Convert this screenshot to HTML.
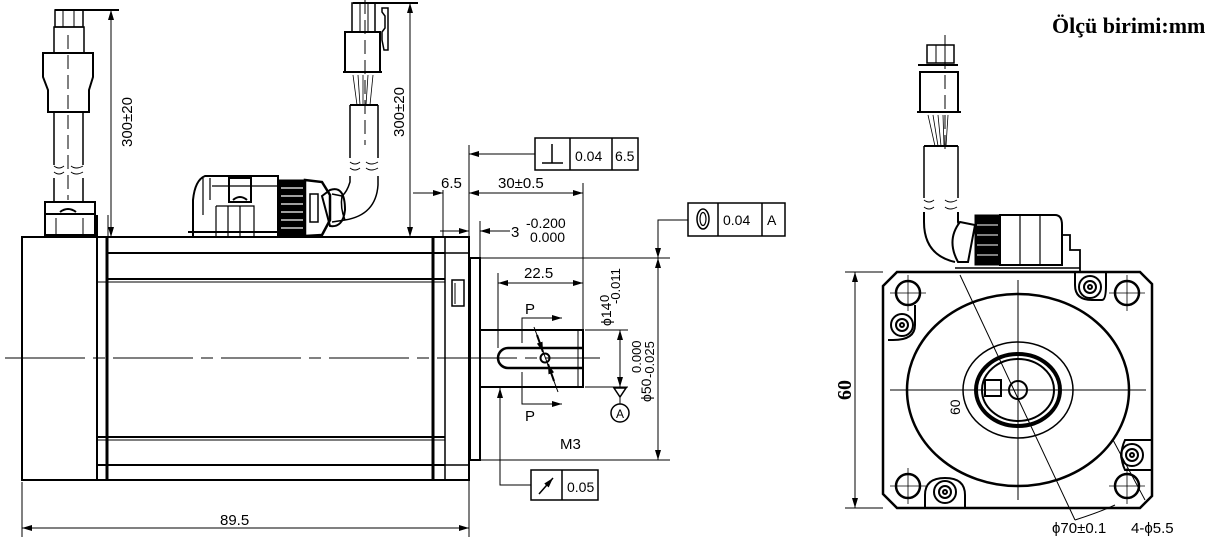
<!DOCTYPE html>
<html><head><meta charset="utf-8"><style>
html,body{margin:0;padding:0;background:#fff;width:1223px;height:553px;overflow:hidden}
svg{display:block}
text{font-family:"Liberation Sans",sans-serif;fill:#000}
</style></head><body>
<svg width="1223" height="553" viewBox="0 0 1223 553" xmlns="http://www.w3.org/2000/svg">
<defs>
<marker id="a" viewBox="0 0 10 6" refX="10" refY="3" markerWidth="10" markerHeight="6" orient="auto-start-reverse" markerUnits="userSpaceOnUse"><path d="M0,0L10,3L0,6z" fill="#000"/></marker>
</defs>
<g fill="none" stroke="#000" stroke-width="1">
<rect x="22" y="237" width="447" height="243" stroke-width="2"/>
<line x1="97" y1="237" x2="97" y2="480" stroke-width="2"/>
<line x1="107" y1="237" x2="107" y2="480" stroke-width="3"/>
<line x1="433" y1="237" x2="433" y2="480" stroke-width="3"/>
<line x1="445" y1="237" x2="445" y2="480" stroke-width="1.5"/>
<line x1="107" y1="253" x2="445" y2="253" stroke-width="2"/>
<line x1="107" y1="279" x2="445" y2="279" stroke-width="2"/>
<line x1="97" y1="282" x2="445" y2="282" stroke-width="1"/>
<line x1="97" y1="437" x2="445" y2="437" stroke-width="2"/>
<line x1="97" y1="440" x2="445" y2="440" stroke-width="1"/>
<line x1="97" y1="465" x2="445" y2="465" stroke-width="2"/>
<line x1="445" y1="465" x2="469" y2="465" stroke-width="1.5"/>
<line x1="445" y1="253" x2="469" y2="253" stroke-width="1.5"/>
<rect x="452" y="280" width="12" height="26" stroke-width="1.5"/>
<line x1="455" y1="283" x2="455" y2="304"/>
<rect x="470" y="258" width="10" height="202" stroke-width="2"/>
<rect x="480" y="330" width="103" height="57" stroke-width="2"/>
<path d="M583,348 H508 A10,10 0 0 0 508,368 H583" stroke-width="2.5"/>
<line x1="578" y1="330" x2="578" y2="387"/>
<circle cx="545" cy="358" r="4.5" stroke-width="2"/>
<line x1="5" y1="358" x2="600" y2="358" stroke-dasharray="80,8,12,8"/>
<line x1="55" y1="10" x2="119" y2="10" stroke-width="2"/>
<rect x="55" y="10" width="28" height="17" stroke-width="1.5"/>
<line x1="63" y1="10" x2="63" y2="27"/><line x1="74" y1="10" x2="74" y2="27"/>
<rect x="54" y="27" width="30" height="26" stroke-width="1.5"/>
<path d="M43,53 H93 V77 L89,90 V112 H48 V90 L43,77 Z" stroke-width="2"/>
<line x1="54" y1="112" x2="54" y2="165" stroke-width="1.5"/>
<line x1="83" y1="112" x2="83" y2="165" stroke-width="1.5"/>
<path d="M54,166 q5,4 10,0 M71,166 q5,4 12,0 M54,172 q5,4 10,0 M71,172 q5,4 12,0"/>
<line x1="54" y1="178" x2="54" y2="202" stroke-width="1.5"/>
<line x1="83" y1="178" x2="83" y2="202" stroke-width="1.5"/>
<line x1="68" y1="35" x2="68" y2="200" stroke-dasharray="14,6"/>
<rect x="45" y="202" width="50" height="33" stroke-width="2"/>
<line x1="45" y1="214" x2="95" y2="214" stroke-width="2"/>
<path d="M60,212 q8,-6 16,0" stroke-width="2"/>
<line x1="56" y1="218" x2="56" y2="235"/><line x1="83" y1="218" x2="83" y2="235"/>
<line x1="97" y1="215" x2="97" y2="250" stroke-width="2"/><line x1="108" y1="215" x2="108" y2="237"/>
<line x1="111" y1="10" x2="111" y2="237" marker-start="url(#a)" marker-end="url(#a)"/>
<line x1="353" y1="3" x2="418" y2="3" stroke-width="2"/>
<rect x="352" y="3" width="23" height="29" stroke-width="1.5"/>
<line x1="360" y1="3" x2="360" y2="32"/><line x1="368" y1="3" x2="368" y2="32"/>
<path d="M382,8 h6 v42 h-4 l-2,-10 v-8 l3,-4 v-12 l-3,-4z" stroke-width="1.5"/>
<rect x="345" y="32" width="35" height="40" stroke-width="2"/>
<line x1="343" y1="72" x2="382" y2="72" stroke-width="2"/>
<line x1="365" y1="0" x2="365" y2="145" stroke-dasharray="14,6"/>
<path d="M353,75 L357,105 M358,75 L360,105 M363,75 L363,105 M368,75 L366,105 M373,75 L370,105" stroke-width="0.8"/>
<line x1="350" y1="105" x2="378" y2="105" stroke-width="2"/>
<line x1="350" y1="105" x2="350" y2="158" stroke-width="1.5"/>
<line x1="378" y1="105" x2="378" y2="158" stroke-width="1.5"/>
<path d="M350,162 q5,4 10,0 M366,162 q5,4 12,0 M350,168 q5,4 10,0 M366,168 q5,4 12,0"/>
<path d="M350,176 V182 Q347,192 342,196 M378,176 V185 Q376,215 345,220" stroke-width="1.5"/>
<path d="M342,196 Q340,208 345,220" stroke-width="1.5"/>
<path d="M342,196 L332,194 M345,220 L332,222" stroke-width="1.5"/>
<line x1="410" y1="3" x2="410" y2="237" marker-start="url(#a)" marker-end="url(#a)"/>
<path d="M193,237 V200 Q195,180 205,176 H278 V237" stroke-width="2"/>
<path d="M203,178 V215 M210,178 V200 M212,186 H278" stroke-width="1.2"/>
<rect x="229" y="178" width="22" height="24" stroke-width="2"/>
<path d="M233,200 q7,-6 14,0" stroke-width="2"/>
<path d="M216,206 H254 V237 M216,206 V237 M228,206 V237 M240,206 V237" stroke-width="1.2"/>
<line x1="188" y1="232" x2="278" y2="232" stroke-width="2"/>
<rect x="279" y="180" width="26" height="56" fill="#000" stroke-width="1"/>
<g stroke="#fff" stroke-width="1.2"><line x1="281" y1="188" x2="303" y2="188"/><line x1="281" y1="196" x2="303" y2="196"/><line x1="281" y1="204" x2="303" y2="204"/><line x1="281" y1="212" x2="303" y2="212"/><line x1="281" y1="220" x2="303" y2="220"/><line x1="281" y1="228" x2="303" y2="228"/></g>
<path d="M305,180 L322,182 L330,195 L330,220 L322,235 L305,236 Z" stroke-width="2.5"/>
<path d="M310,194 H318 V222 H310 Z" stroke-width="1.5"/>
<path d="M322,196 L330,190 Q345,185 345,210 Q343,228 330,226 Z" stroke-width="2"/>
<line x1="22" y1="482" x2="22" y2="537"/>
<line x1="469" y1="145" x2="469" y2="537"/>
<line x1="22" y1="528" x2="469" y2="528" marker-start="url(#a)" marker-end="url(#a)"/>
<line x1="443" y1="190" x2="443" y2="237"/>
<line x1="413" y1="193" x2="443" y2="193" marker-end="url(#a)"/>
<line x1="469" y1="193" x2="583" y2="193" marker-start="url(#a)" marker-end="url(#a)"/>
<line x1="583" y1="183" x2="583" y2="330"/>
<line x1="535" y1="154" x2="469" y2="154" marker-end="url(#a)"/>
<rect x="535" y="138" width="103" height="32" stroke-width="1.5"/>
<line x1="570" y1="138" x2="570" y2="170" stroke-width="1.5"/><line x1="612" y1="138" x2="612" y2="170" stroke-width="1.5"/>
<line x1="552" y1="144" x2="552" y2="163" stroke-width="1.5"/><line x1="542" y1="163" x2="563" y2="163" stroke-width="1.5"/>
<line x1="480" y1="221" x2="480" y2="258"/>
<line x1="440" y1="231" x2="469" y2="231" marker-end="url(#a)"/>
<line x1="510" y1="231" x2="480" y2="231" marker-end="url(#a)"/>
<rect x="688" y="203" width="97" height="33" stroke-width="1.5"/>
<line x1="718" y1="203" x2="718" y2="236" stroke-width="1.5"/><line x1="762" y1="203" x2="762" y2="236" stroke-width="1.5"/>
<ellipse cx="703" cy="219" rx="6" ry="10" stroke-width="1.5"/><ellipse cx="703" cy="219" rx="3" ry="6.5" stroke-width="1.2"/>
<path d="M688,220 H658 V258" marker-end="url(#a)"/>
<line x1="480" y1="258" x2="670" y2="258"/>
<line x1="480" y1="460" x2="670" y2="460"/>
<line x1="658" y1="258" x2="658" y2="460" marker-start="url(#a)" marker-end="url(#a)"/>
<line x1="498" y1="273" x2="498" y2="348"/>
<line x1="498" y1="283" x2="583" y2="283" marker-start="url(#a)" marker-end="url(#a)"/>
<line x1="585" y1="330" x2="628" y2="330"/>
<line x1="585" y1="387" x2="628" y2="387"/>
<line x1="620" y1="330" x2="620" y2="387" marker-start="url(#a)" marker-end="url(#a)"/>
<path d="M614,388 L626,388 L620,397 Z" stroke-width="1.5"/>
<line x1="620" y1="397" x2="620" y2="404"/>
<circle cx="620" cy="413" r="9" stroke-width="1.5"/>
<path d="M522,343 V318 H562" marker-end="url(#a)"/>
<path d="M522,372 V404 H562" marker-end="url(#a)"/>
<line x1="534" y1="327" x2="558" y2="392"/>
<line x1="537" y1="335" x2="543" y2="352" stroke-width="2" marker-end="url(#a)"/>
<line x1="554" y1="381" x2="548" y2="364" stroke-width="2" marker-end="url(#a)"/>
<rect x="531" y="470" width="67" height="30" stroke-width="1.5"/>
<line x1="562" y1="470" x2="562" y2="500" stroke-width="1.5"/>
<line x1="539" y1="494" x2="553" y2="478" stroke-width="1.5" marker-end="url(#a)"/>
<path d="M531,485 H500 V388" marker-end="url(#a)"/>
<!-- RIGHT VIEW -->
<path d="M897,272 H1140 L1152,284 V496 L1140,508 H897 L883,494 V286 Z" stroke-width="2.5"/>
<ellipse cx="1018" cy="390" rx="111" ry="96" stroke-width="2.5"/>
<ellipse cx="1018" cy="390" rx="55" ry="48" stroke-width="1.5"/>
<ellipse cx="1018" cy="390" rx="42" ry="36" stroke-width="4"/>
<ellipse cx="1018" cy="390" rx="36" ry="31" stroke-width="2"/>
<circle cx="1018" cy="390" r="9" stroke-width="2"/>
<rect x="985" y="380" width="16" height="16" stroke-width="2" fill="#fff"/>
<line x1="890" y1="390" x2="1146" y2="390"/>
<line x1="1018" y1="280" x2="1018" y2="500"/>
<g stroke-width="2.5">
<circle cx="908" cy="293" r="12"/><circle cx="1127" cy="293" r="12"/>
<circle cx="908" cy="486" r="12"/><circle cx="1127" cy="486" r="12"/>
</g>
<g stroke-width="0.8">
<path d="M890,293 h36 M908,275 v36 M1109,293 h36 M1127,275 v36 M890,486 h36 M908,468 v36 M1109,486 h36 M1127,468 v36"/>
</g>
<g stroke-width="2">
<circle cx="902" cy="325" r="11"/><circle cx="902" cy="325" r="6"/><circle cx="902" cy="325" r="2"/>
<circle cx="1090" cy="287" r="11"/><circle cx="1090" cy="287" r="6"/><circle cx="1090" cy="287" r="2"/>
<circle cx="1132" cy="455" r="11"/><circle cx="1132" cy="455" r="6"/><circle cx="1132" cy="455" r="2"/>
<circle cx="945" cy="492" r="11"/><circle cx="945" cy="492" r="6"/><circle cx="945" cy="492" r="2"/>
</g>
<path d="M888,340 H893 Q915,340 915,325 V305 M1075,272 V285 Q1075,300 1092,300 H1102 Q1106,300 1106,285 V272 M1152,440 H1125 Q1118,455 1125,470 H1152 M925,508 V495 Q925,478 945,478 Q965,478 965,495 V508" stroke-width="2"/>
<line x1="960" y1="275" x2="1075" y2="520"/>
<path d="M1075,520 Q1100,512 1115,505"/>
<line x1="1113" y1="440" x2="1145" y2="500"/>
<line x1="945" y1="35" x2="945" y2="150" stroke-dasharray="14,6"/>
<rect x="927" y="45" width="27" height="18" stroke-width="1.5"/>
<line x1="936" y1="45" x2="936" y2="63"/><line x1="945" y1="45" x2="945" y2="63"/>
<rect x="920" y="72" width="38" height="40" stroke-width="2"/>
<line x1="917" y1="112" x2="961" y2="112" stroke-width="2"/>
<line x1="918" y1="65" x2="958" y2="65" stroke-width="2"/>
<path d="M928,115 L935,146 M933,115 L938,146 M938,115 L941,146 M943,115 L944,146 M948,115 L946,146" stroke-width="0.8"/>
<line x1="924" y1="146" x2="958" y2="146" stroke-width="2"/>
<line x1="924" y1="146" x2="924" y2="198" stroke-width="1.5"/><line x1="958" y1="146" x2="958" y2="198" stroke-width="1.5"/>
<path d="M924,200 q5,4 10,0 M945,200 q5,4 12,0 M924,207 q5,4 10,0 M945,207 q5,4 12,0"/>
<path d="M924,212 V222 Q924,255 955,262" stroke-width="2"/>
<path d="M958,212 V222 Q960,232 970,235" stroke-width="2"/>
<path d="M960,222 Q946,240 958,262 L968,262 L975,225 Z" stroke-width="2" fill="#fff"/>
<path d="M975,215 H1000 V265 H975 Z" fill="#000"/>
<g stroke="#fff"><line x1="977" y1="225" x2="998" y2="225"/><line x1="977" y1="235" x2="998" y2="235"/><line x1="977" y1="245" x2="998" y2="245"/><line x1="977" y1="255" x2="998" y2="255"/></g>
<path d="M1000,215 H1055 Q1062,215 1062,225 V265 H1000 Z" stroke-width="2"/>
<path d="M1020,215 V265 M1040,215 V265" stroke-width="1.2"/>
<path d="M1062,235 H1070 V250 H1080 V272" stroke-width="1.8"/>
<line x1="955" y1="268" x2="1080" y2="268" stroke-width="1.5"/>
<line x1="845" y1="272" x2="883" y2="272"/><line x1="845" y1="508" x2="883" y2="508"/>
<line x1="855" y1="272" x2="855" y2="508" marker-start="url(#a)" marker-end="url(#a)"/>
</g>
<text x="1052" y="33" style="font-family:'Liberation Serif',serif;font-weight:bold;font-size:22px">Ölçü birimi:mm</text>
<text transform="translate(132,147) rotate(-90)" font-size="15">300±20</text>
<text transform="translate(404,137) rotate(-90)" font-size="15">300±20</text>
<text x="441" y="188" font-size="15">6.5</text>
<text x="498" y="188" font-size="15">30±0.5</text>
<text x="575" y="161" font-size="14">0.04</text>
<text x="615" y="161" font-size="14">6.5</text>
<text x="511" y="237" font-size="15">3</text>
<text x="526" y="228" font-size="14">-0.200</text>
<text x="530" y="242" font-size="14">0.000</text>
<text x="723" y="225" font-size="14">0.04</text>
<text x="767" y="225" font-size="14">A</text>
<text x="524" y="278" font-size="15">22.5</text>
<text transform="translate(611,326) rotate(-90)" font-size="14">ϕ14</text>
<text transform="translate(609,302) rotate(-90)" font-size="13">0</text>
<text transform="translate(620,304) rotate(-90)" font-size="13">-0.011</text>
<text transform="translate(651,402) rotate(-90)" font-size="14">ϕ50</text>
<text transform="translate(641,373) rotate(-90)" font-size="13">0.000</text>
<text transform="translate(654,378) rotate(-90)" font-size="13">-0.025</text>
<text x="525" y="314" font-size="15">P</text>
<text x="525" y="421" font-size="15">P</text>
<text x="616" y="418" font-size="12">A</text>
<text x="560" y="449" font-size="15">M3</text>
<text x="567" y="492" font-size="14">0.05</text>
<text x="220" y="525" font-size="15">89.5</text>
<text transform="translate(851,400) rotate(-90)" style="font-family:'Liberation Serif',serif;font-weight:bold;font-size:20px">60</text>
<text transform="translate(960,415) rotate(-90)" font-size="14">60</text>
<text x="1052" y="533" font-size="15">ϕ70±0.1</text>
<text x="1131" y="533" font-size="15">4-ϕ5.5</text>
</svg>
</body></html>
